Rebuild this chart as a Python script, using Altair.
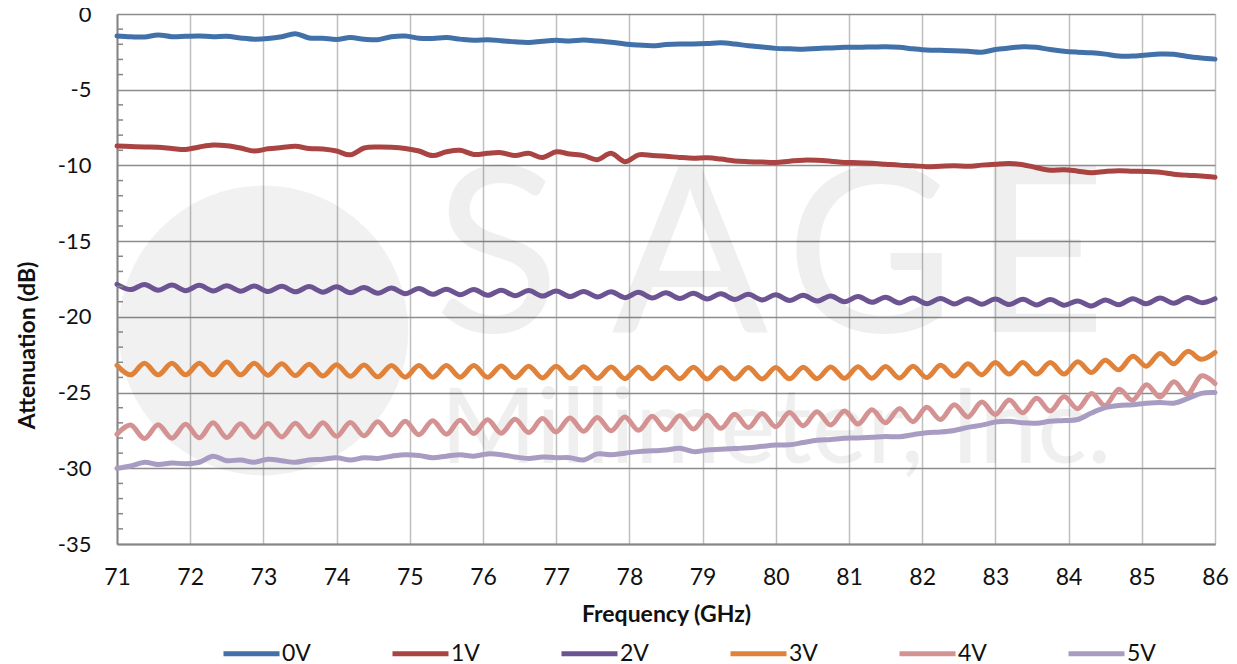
import altair as alt
import pandas as pd

freq = [71.0, 71.1875, 71.375, 71.5625, 71.75, 71.9375, 72.125, 72.3125, 72.5, 72.6875,
        72.875, 73.0625, 73.25, 73.4375, 73.625, 73.8125, 74.0, 74.1875, 74.375, 74.5625,
        74.75, 74.9375, 75.125, 75.3125, 75.5, 75.6875, 75.875, 76.0625, 76.25, 76.4375,
        76.625, 76.8125, 77.0, 77.1875, 77.375, 77.5625, 77.75, 77.9375, 78.125, 78.3125,
        78.5, 78.6875, 78.875, 79.0625, 79.25, 79.4375, 79.625, 79.8125, 80.0, 80.1875,
        80.375, 80.5625, 80.75, 80.9375, 81.125, 81.3125, 81.5, 81.6875, 81.875, 82.0625,
        82.25, 82.4375, 82.625, 82.8125, 83.0, 83.1875, 83.375, 83.5625, 83.75, 83.9375,
        84.125, 84.3125, 84.5, 84.6875, 84.875, 85.0625, 85.25, 85.4375, 85.625, 85.8125, 86.0]

v0 = [-1.45, -1.50, -1.52, -1.38, -1.50, -1.47, -1.45, -1.50, -1.47, -1.58,
      -1.66, -1.62, -1.50, -1.30, -1.58, -1.60, -1.68, -1.56, -1.66, -1.70,
      -1.50, -1.45, -1.60, -1.62, -1.56, -1.66, -1.74, -1.70, -1.76, -1.84,
      -1.88, -1.80, -1.74, -1.78, -1.72, -1.78, -1.86, -1.98, -2.05, -2.10,
      -2.02, -1.98, -1.98, -1.95, -1.90, -1.98, -2.10, -2.18, -2.27, -2.30,
      -2.33, -2.28, -2.24, -2.20, -2.20, -2.18, -2.16, -2.20, -2.30, -2.38,
      -2.40, -2.42, -2.46, -2.52, -2.35, -2.25, -2.16, -2.20, -2.35, -2.46,
      -2.52, -2.56, -2.65, -2.78, -2.78, -2.70, -2.64, -2.66, -2.80, -2.90, -2.98]

v1 = [-8.72, -8.75, -8.78, -8.80, -8.88, -8.95, -8.78, -8.65, -8.70, -8.85,
      -9.05, -8.90, -8.82, -8.74, -8.88, -8.92, -9.05, -9.30, -8.85, -8.78,
      -8.80, -8.88, -9.05, -9.35, -9.10, -9.00, -9.28, -9.20, -9.16, -9.35,
      -9.20, -9.48, -9.10, -9.25, -9.35, -9.62, -9.20, -9.75, -9.30, -9.35,
      -9.40, -9.47, -9.52, -9.50, -9.58, -9.70, -9.75, -9.78, -9.80, -9.72,
      -9.65, -9.66, -9.72, -9.80, -9.82, -9.86, -9.92, -9.98, -10.02, -10.08,
      -10.05, -10.02, -10.06, -9.98, -9.92, -9.88, -9.95, -10.15, -10.32, -10.28,
      -10.38, -10.48, -10.40, -10.35, -10.38, -10.40, -10.45, -10.58, -10.65, -10.70, -10.78]

v2 = [-17.85, -18.20, -17.86, -18.24, -17.90, -18.27, -17.92, -18.29, -17.94, -18.31,
      -17.96, -18.33, -17.98, -18.35, -18.00, -18.37, -18.02, -18.40, -18.06, -18.44,
      -18.10, -18.47, -18.13, -18.51, -18.17, -18.54, -18.20, -18.58, -18.24, -18.61,
      -18.26, -18.63, -18.29, -18.66, -18.32, -18.69, -18.35, -18.73, -18.38, -18.76,
      -18.41, -18.79, -18.44, -18.82, -18.47, -18.85, -18.51, -18.88, -18.54, -18.92,
      -18.58, -18.96, -18.62, -19.00, -18.66, -19.04, -18.70, -19.08, -18.75, -19.13,
      -18.78, -19.15, -18.80, -19.17, -18.82, -19.19, -18.84, -19.21, -18.86, -19.23,
      -18.95, -19.28, -18.88, -19.20, -18.80, -19.14, -18.76, -19.10, -18.72, -19.06, -18.80]

v3 = [-23.20, -23.83, -23.07, -23.83, -23.07, -23.83, -23.07, -23.83, -22.98, -23.83,
      -23.07, -23.85, -23.10, -23.88, -23.13, -23.90, -23.16, -23.93, -23.18, -23.96,
      -23.21, -23.98, -23.22, -23.98, -23.22, -23.98, -23.22, -23.99, -23.24, -24.01,
      -23.26, -24.03, -23.27, -24.04, -23.29, -24.06, -23.31, -24.08, -23.32, -24.08,
      -23.33, -24.09, -23.33, -24.10, -23.34, -24.10, -23.34, -24.10, -23.34, -24.09,
      -23.32, -24.08, -23.31, -24.06, -23.30, -24.05, -23.28, -24.04, -23.27, -24.01,
      -23.20, -23.91, -23.10, -23.82, -23.02, -23.78, -23.02, -23.78, -23.02, -23.78,
      -22.97, -23.68, -22.87, -23.50, -22.60, -23.26, -22.42, -23.10, -22.28, -22.80, -22.35]

v4 = [-27.75, -27.14, -28.03, -27.12, -28.01, -27.10, -27.99, -27.00, -27.97, -27.06,
      -27.95, -27.04, -27.93, -27.02, -27.91, -27.00, -27.89, -26.97, -27.85, -26.93,
      -27.81, -26.90, -27.78, -26.86, -27.75, -26.83, -27.71, -26.80, -27.68, -26.76,
      -27.64, -26.72, -27.60, -26.68, -27.56, -26.64, -27.52, -26.61, -27.49, -26.57,
      -27.45, -26.53, -27.41, -26.49, -27.36, -26.43, -27.31, -26.38, -27.25, -26.32,
      -27.19, -26.26, -27.14, -26.21, -27.08, -26.14, -27.00, -26.06, -26.92, -25.97,
      -26.78, -25.80, -26.61, -25.63, -26.45, -25.49, -26.34, -25.38, -26.22, -25.26,
      -26.07, -25.06, -25.85, -24.78, -25.51, -24.48, -25.29, -24.29, -25.10, -23.90, -24.40]

v5 = [-30.00, -29.85, -29.60, -29.75, -29.65, -29.70, -29.60, -29.20, -29.50, -29.45,
      -29.60, -29.40, -29.50, -29.60, -29.45, -29.40, -29.30, -29.45, -29.30, -29.35,
      -29.20, -29.10, -29.15, -29.30, -29.20, -29.10, -29.20, -29.05, -29.10, -29.25,
      -29.35, -29.25, -29.30, -29.30, -29.45, -29.05, -29.10, -29.00, -28.90, -28.85,
      -28.80, -28.68, -28.90, -28.80, -28.75, -28.70, -28.65, -28.55, -28.46, -28.45,
      -28.30, -28.15, -28.10, -28.02, -28.00, -27.95, -27.90, -27.92, -27.78, -27.65,
      -27.60, -27.50, -27.30, -27.15, -26.95, -26.90, -27.00, -27.02, -26.90, -26.85,
      -26.78, -26.35, -26.00, -25.85, -25.80, -25.70, -25.65, -25.70, -25.40, -25.05, -25.00]

series_names = ["0V", "1V", "2V", "3V", "4V", "5V"]
series_values = [v0, v1, v2, v3, v4, v5]
series_colors = ["#4271AA", "#A94442", "#6C5492", "#E0823A", "#D49392", "#A99CC2"]

x_ticks = [71, 72, 73, 74, 75, 76, 77, 78, 79, 80, 81, 82, 83, 84, 85, 86]
y_ticks = [0, -5, -10, -15, -20, -25, -30, -35]
y_minor = [-1, -2, -3, -4, -6, -7, -8, -9, -11, -12, -13, -14, -16, -17, -18, -19,
           -21, -22, -23, -24, -26, -27, -28, -29, -31, -32, -33, -34]

# faint company watermark (letters and logo disc), placed in data units
wm_letters = ["S", "A", "G", "E"]
wm_letter_freq = [76.19, 78.83, 81.29, 83.6]
wm_letter_db = [-16.4, -16.4, -16.4, -16.4]
wm_sub = ["Millimeter, Inc."]
wm_sub_freq = [80.0]
wm_sub_db = [-27.6]
logo_freq = [73.0]
logo_db = [-20.9]

rows = []
for name, vals in zip(series_names, series_values):
    for f, v in zip(freq, vals):
        rows.append({"freq": f, "atten": v, "series": name})
df = pd.DataFrame(rows)

FONT = "Lato"
INK = "#111111"
xscale = alt.Scale(domain=[71, 86], nice=False, zero=False)
yscale = alt.Scale(domain=[-35, 0], nice=False, zero=False)
hyphen = "replace(format(datum.value, 'd'), '\u2212', '-')"

base_x = alt.X("freq:Q", scale=xscale,
               axis=alt.Axis(values=x_ticks, title="Frequency (GHz)", labelExpr=hyphen,
                             grid=True, gridColor="#BFBFBF", gridWidth=1.5,
                             domainColor="#868686", domainWidth=2, ticks=False,
                             labelFlush=False, labelOverlap=False,
                             labelFont=FONT, labelFontSize=23, labelColor=INK,
                             labelPadding=22,
                             titleFont=FONT, titleFontSize=23, titleFontWeight="bold",
                             titleColor=INK, titlePadding=14))
base_y = alt.Y("atten:Q", scale=yscale,
               axis=alt.Axis(values=y_ticks, title="Attenuation (dB)", labelExpr=hyphen,
                             grid=True, gridColor="#8C8C8C", gridWidth=1.5,
                             domainColor="#868686", domainWidth=2, ticks=False,
                             labelFlush=False, labelOverlap=False,
                             labelFont=FONT, labelFontSize=22, labelColor=INK,
                             labelPadding=26,
                             titleFont=FONT, titleFontSize=23, titleFontWeight="bold",
                             titleColor=INK, titleAngle=270,
                             titleX=-90, titleY=331, titleAlign="center",
                             titleBaseline="middle"))

letters_df = pd.DataFrame({"freq": wm_letter_freq, "atten": wm_letter_db, "text": wm_letters})
sub_df = pd.DataFrame({"freq": wm_sub_freq, "atten": wm_sub_db, "text": wm_sub})
logo_df = pd.DataFrame({"freq": logo_freq, "atten": logo_db})

logo = alt.Chart(logo_df).mark_point(shape="circle", filled=True, size=84000,
                                     color="#000000", opacity=0.055).encode(
    x=alt.X("freq:Q", scale=xscale), y=alt.Y("atten:Q", scale=yscale))

wm1 = alt.Chart(letters_df).mark_text(
    font=FONT, fontSize=232, fontWeight=400, color="#000000", opacity=0.06,
    align="center", baseline="middle").encode(
    x=alt.X("freq:Q", scale=xscale), y=alt.Y("atten:Q", scale=yscale), text="text:N")
wm2 = alt.Chart(sub_df).mark_text(
    font=FONT, fontSize=104, fontWeight=400, color="#000000", opacity=0.06,
    align="center", baseline="middle").encode(
    x=alt.X("freq:Q", scale=xscale), y=alt.Y("atten:Q", scale=yscale), text="text:N")

minor = alt.Chart(pd.DataFrame({"atten": y_minor})).mark_rule(
    color="#868686", strokeWidth=1.5).encode(
    y=alt.Y("atten:Q", scale=yscale), x=alt.value(0), x2=alt.value(6))

lines = alt.Chart(df).mark_line(strokeWidth=5, interpolate="cardinal",
                                strokeCap="round", strokeJoin="round").encode(
    x=base_x, y=base_y,
    color=alt.Color("series:N", sort=series_names,
                    scale=alt.Scale(domain=series_names, range=series_colors),
                    legend=alt.Legend(title=None, orient="none", direction="horizontal",
                                      legendX=104, legendY=609,
                                      symbolType="stroke", symbolSize=3136,
                                      symbolStrokeWidth=5, labelFont=FONT,
                                      labelFontSize=23, labelColor=INK,
                                      labelOffset=0, columnPadding=71, padding=0)),
    order=alt.Order("freq:Q"),
)

chart = alt.layer(logo, wm1, wm2, lines, minor).properties(
    width=1098, height=530,
    autosize=alt.AutoSizeParams(type="none"),
    padding={"left": 109, "top": 6, "right": 14, "bottom": 120},
).configure_view(stroke=None).configure(background="white")

chart.save("out.html", embed_options={"renderer": "svg", "actions": False})
